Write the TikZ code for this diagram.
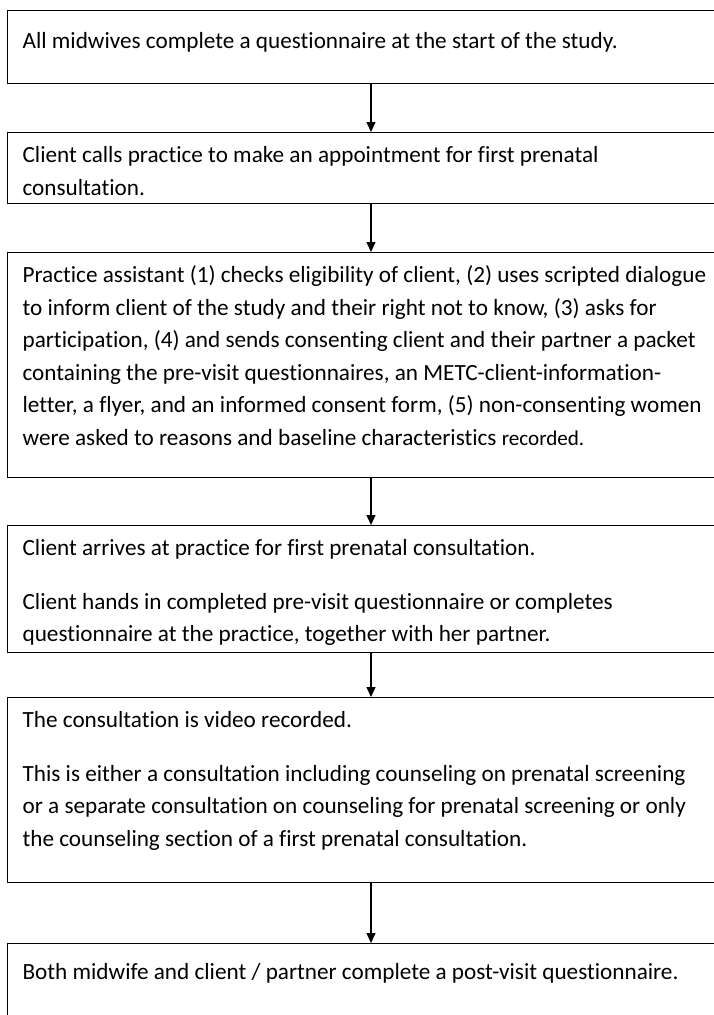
\documentclass[tikz,border=0pt]{standalone}
\usepackage{fontspec}
\setmainfont{Carlito}[Ligatures=NoCommon]
\usetikzlibrary{arrows.meta}

\begin{document}
\begin{tikzpicture}[
  x=1pt, y=-1pt,
  >={Triangle[length=10pt,width=9pt]},
  stage/.style={draw,line width=1.2pt,anchor=north west,
    inner xsep=15pt,inner ysep=0pt,text width=720pt,align=flush left,
    text height=29.9pt,font=\fontsize{23.2}{32.5}\selectfont},
  flow/.style={->,line width=1.3pt}
]
  \useasboundingbox (0,0) rectangle (714,1015);
  \clip (0,0) rectangle (714,1015);
  \coordinate (ax) at (371,0);

  \node[stage,text height=38pt,text depth=35pt] (s1) at (7,10)
    {All midwives complete a questionnaire at the start of the study.};
  \node[stage,text depth=41.1pt] (s2) at (7,132)
    {Client calls practice to make an appointment for first prenatal\\
     consultation.};
  \node[stage,text depth=195.1pt] (s3) at (7,252)
    {Practice assistant (1) checks eligibility of client, (2) uses scripted dialogue\\
     to inform client of the study and their right not to know, (3) asks for\\
     participation, (4) and sends consenting client and their partner a packet\\
     containing the pre-visit questionnaires, an METC-client-information-\\
     letter, a flyer, and an informed consent form, (5) non-consenting women\\
     were asked to reasons and baseline characteristics {\fontsize{21.1}{32.5}\selectfont recorded.}};
  \node[stage,text depth=97.1pt] (s4) at (7,525)
    {Client arrives at practice for first prenatal consultation.\\[21.1pt]
     Client hands in completed pre-visit questionnaire or completes\\
     questionnaire at the practice, together with her partner.};
  \node[stage,text depth=155.1pt] (s5) at (7,697)
    {The consultation is video recorded.\\[21.1pt]
     This is either a consultation including counseling on prenatal screening\\
     or a separate consultation on counseling for prenatal screening or only\\
     the counseling section of a first prenatal consultation.};
  \node[stage,text height=36pt,text depth=60pt] (s6) at (7,943)
    {Both midwife and client / partner complete a post-visit questionnaire.};

  \draw[flow] (s1.south -| ax) -- (s2.north -| ax);
  \draw[flow] (s2.south -| ax) -- (s3.north -| ax);
  \draw[flow] (s3.south -| ax) -- (s4.north -| ax);
  \draw[flow] (s4.south -| ax) -- (s5.north -| ax);
  \draw[flow] (s5.south -| ax) -- (s6.north -| ax);
\end{tikzpicture}
\end{document}
